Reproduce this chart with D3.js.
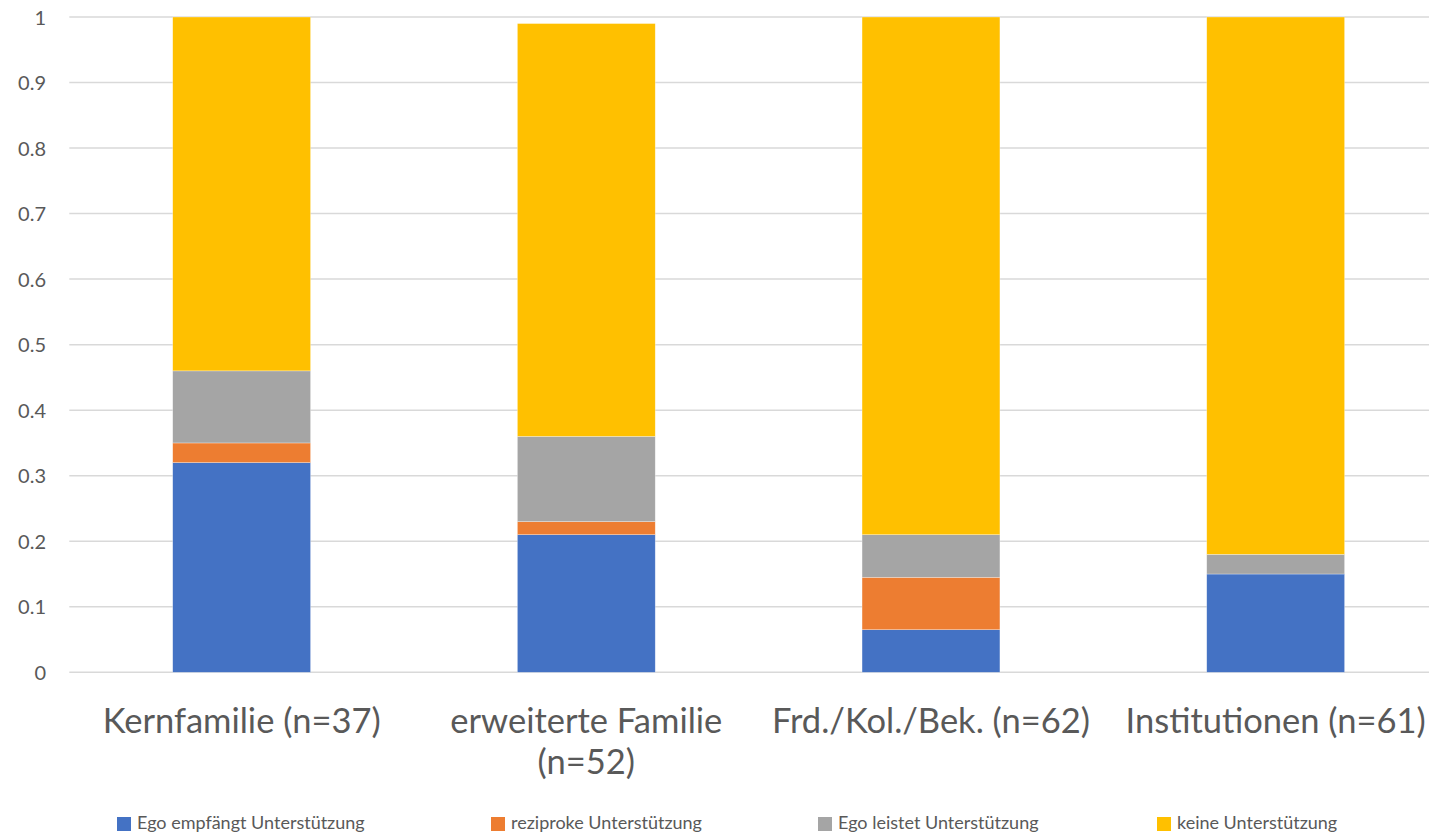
<!DOCTYPE html>
<html>
<head>
<meta charset="utf-8">
<script src="https://cdn.jsdelivr.net/npm/d3@7"></script>
<style>
  html, body { margin: 0; padding: 0; background: #fff; }
  svg { display: block; }
  text { font-family: Lato, "Open Sans", sans-serif; fill: #595959; }
</style>
</head>
<body>
<svg id="chart" width="1429" height="835"></svg>
<script>
// Categories (one line per entry in the axis label)
const categories = ["Kernfamilie", "erweiterte Familie", "Frd./Kol./Bek.", "Institutionen"];
const categoryLabelLines = [
  ["Kernfamilie (n=37)"],
  ["erweiterte Familie", "(n=52)"],
  ["Frd./Kol./Bek. (n=62)"],
  ["Institutionen (n=61)"]
];

// Series, stacked bottom to top
const seriesNames = ["Ego empfängt Unterstützung", "reziproke Unterstützung", "Ego leistet Unterstützung", "keine Unterstützung"];
const egoEmpfaengt  = [0.32, 0.21, 0.065, 0.15];
const reziprok      = [0.03, 0.02, 0.08, 0.00];
const egoLeistet    = [0.11, 0.13, 0.065, 0.03];
const keine         = [0.54, 0.63, 0.79, 0.82];
const seriesColors  = ["#4472C4", "#ED7D31", "#A5A5A5", "#FFC000"];

const yTicks = [0, 0.1, 0.2, 0.3, 0.4, 0.5, 0.6, 0.7, 0.8, 0.9, 1];

const seriesValues = [egoEmpfaengt, reziprok, egoLeistet, keine];
const rows = categories.map((c, i) => {
  const r = { category: c };
  seriesNames.forEach((s, j) => { r[s] = seriesValues[j][i]; });
  return r;
});
const stacked = d3.stack().keys(seriesNames)(rows);

const svg = d3.select("#chart");
const plot = { left: 69.3, right: 1448, top: 17, bottom: 672.3 };

const x = d3.scaleBand()
  .domain(categories)
  .range([plot.left, plot.right])
  .paddingInner(0.6)
  .paddingOuter(0.3);

const y = d3.scaleLinear()
  .domain([0, 1])
  .range([plot.bottom, plot.top]);

// Horizontal gridlines
svg.append("g")
  .selectAll("line")
  .data(yTicks)
  .join("line")
  .attr("x1", plot.left)
  .attr("x2", plot.right)
  .attr("y1", d => y(d))
  .attr("y2", d => y(d))
  .attr("stroke", "#D9D9D9")
  .attr("stroke-width", 1.5);

// Y axis labels
const yAxis = d3.axisLeft(y)
  .tickValues(yTicks)
  .tickFormat(d => String(+d.toFixed(1)))
  .tickSize(0)
  .tickPadding(0);
const yg = svg.append("g")
  .attr("transform", `translate(46,0)`)
  .call(yAxis);
yg.select(".domain").remove();
yg.selectAll("text")
  .attr("font-size", 20)
  .attr("font-family", "Lato, 'Open Sans', sans-serif")
  .attr("fill", "#595959")
  .attr("dy", "0.35em");

// Stacked bars
svg.append("g")
  .selectAll("g")
  .data(stacked)
  .join("g")
  .attr("fill", (d, i) => seriesColors[i])
  .selectAll("rect")
  .data(d => d)
  .join("rect")
  .attr("x", d => x(d.data.category))
  .attr("width", x.bandwidth())
  .attr("y", d => y(d[1]))
  .attr("height", d => y(d[0]) - y(d[1]))
  .attr("stroke", "rgba(255,255,255,0.5)")
  .attr("stroke-width", 0.6);

// X axis labels
const xAxis = d3.axisBottom(x).tickSize(0).tickFormat(() => "");
const xg = svg.append("g")
  .attr("transform", `translate(0,${plot.bottom})`)
  .call(xAxis);
xg.select(".domain").remove();
xg.selectAll(".tick text").remove();
xg.selectAll(".tick").each(function(d, i) {
  const t = d3.select(this).append("text")
    .attr("text-anchor", "middle")
    .attr("font-size", 34.5)
    .attr("y", 61);
  categoryLabelLines[i].forEach((line, k) => {
    t.append("tspan").attr("x", 0).attr("dy", k === 0 ? 0 : 41).text(line);
  });
});

// Legend
const legendX = [117, 491, 818, 1157];
const legend = svg.append("g")
  .selectAll("g")
  .data(seriesNames)
  .join("g")
  .attr("transform", (d, i) => `translate(${legendX[i]},817)`);
legend.append("rect")
  .attr("width", 14)
  .attr("height", 14)
  .attr("fill", (d, i) => seriesColors[i]);
legend.append("text")
  .attr("x", 20)
  .attr("y", 12)
  .attr("font-size", 18)
  .text(d => d);
</script>
</body>
</html>
